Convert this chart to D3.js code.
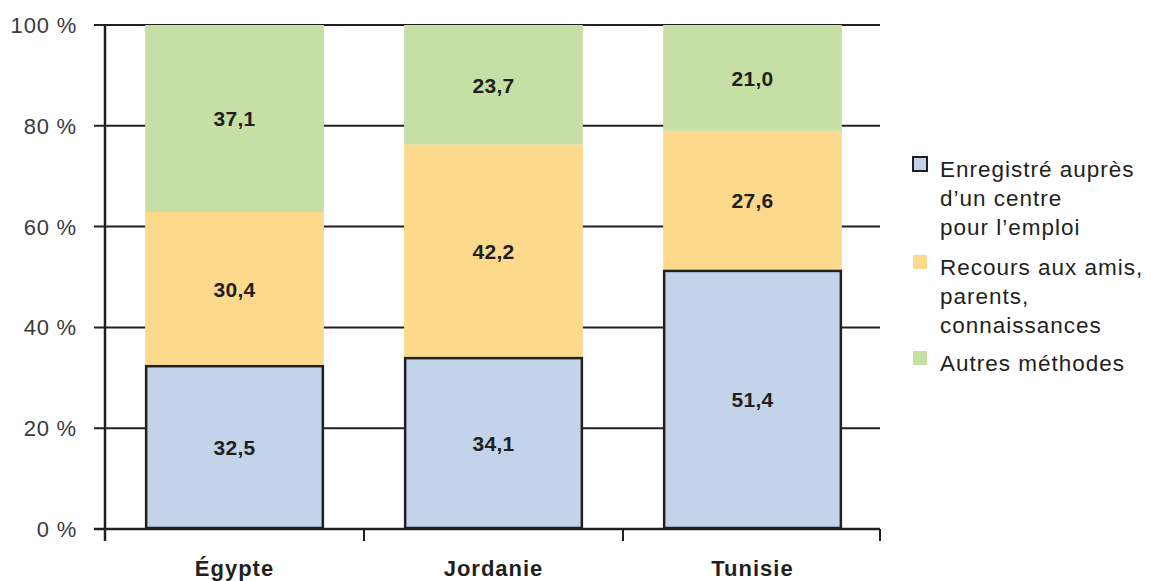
<!DOCTYPE html>
<html>
<head>
<meta charset="utf-8">
<script src="https://cdn.jsdelivr.net/npm/d3@7"></script>
<style>
  body { margin: 0; background: #fff; }
  text { font-family: "Liberation Sans", Arial, sans-serif; }
</style>
</head>
<body>
<script>
var categories = ["Égypte", "Jordanie", "Tunisie"];
var seriesNames = ["Enregistré auprès d’un centre pour l’emploi", "Recours aux amis, parents, connaissances", "Autres méthodes"];
var enregistre = [32.5, 34.1, 51.4];
var recours = [30.4, 42.2, 27.6];
var autres = [37.1, 23.7, 21.0];
var yTicks = [0, 20, 40, 60, 80, 100];

var legendLines = [
  ["Enregistré auprès", "d’un centre", "pour l’emploi"],
  ["Recours aux amis,", "parents,", "connaissances"],
  ["Autres méthodes"]
];

var width = 1151, height = 581;
var color = ["#C3D4EA", "#FDD98C", "#C5DFA5"];
var ink = "#231F20";

var svg = d3.select("body").append("svg")
    .attr("width", width)
    .attr("height", height);

var x = d3.scaleBand().domain(categories).range([105, 882]).paddingInner(0.31).paddingOuter(0.155);
var y = d3.scaleLinear().domain([0, 100]).range([529, 25]);

// table for stacking
var rows = categories.map(function(c, i) {
  return { cat: c, s0: enregistre[i], s1: recours[i], s2: autres[i] };
});
var stack = d3.stack().keys(["s0", "s1", "s2"])(rows);

// gridlines
svg.append("g").selectAll("line")
   .data(yTicks)
   .enter().append("line")
   .attr("x1", 94).attr("x2", 880)
   .attr("y1", function(d) { return y(d); })
   .attr("y2", function(d) { return y(d); })
   .attr("stroke", ink).attr("stroke-width", 2);

// tick labels
svg.append("g").selectAll("text")
   .data(yTicks)
   .enter().append("text")
   .attr("x", 77)
   .attr("y", function(d) { return y(d) + 8; })
   .attr("text-anchor", "end")
   .attr("font-size", "22px")
   .attr("letter-spacing", "0.8px")
   .attr("fill", "#3a3a3a")
   .text(function(d) { return d + " %"; });

// bars
var layers = svg.append("g").selectAll("g")
    .data(stack)
    .enter().append("g")
    .attr("fill", function(d, i) { return color[i]; });

layers.selectAll("rect")
    .data(function(d) { return d; })
    .enter().append("rect")
    .attr("x", function(d) { return x(d.data.cat); })
    .attr("width", x.bandwidth())
    .attr("y", function(d) { return y(d[1]); })
    .attr("height", function(d) { return y(d[0]) - y(d[1]); });

// outline on blue segment
svg.append("g").selectAll("rect")
   .data(stack[0])
   .enter().append("rect")
   .attr("x", function(d) { return x(d.data.cat) + 1; })
   .attr("width", x.bandwidth() - 2)
   .attr("y", function(d) { return y(d[1]) + 1; })
   .attr("height", function(d) { return y(d[0]) - y(d[1]) - 2; })
   .attr("fill", "none")
   .attr("stroke", ink)
   .attr("stroke-width", 2.5);

// value labels
stack.forEach(function(layer) {
  svg.append("g").selectAll("text")
     .data(layer)
     .enter().append("text")
     .attr("x", function(d) { return x(d.data.cat) + x.bandwidth() / 2; })
     .attr("y", function(d) { return (y(d[0]) + y(d[1])) / 2 + 8; })
     .attr("text-anchor", "middle")
     .attr("font-size", "21px")
     .attr("letter-spacing", "0.3px")
     .attr("font-weight", "bold")
     .attr("fill", ink)
     .text(function(d) { return d3.format(".1f")(d[1] - d[0]).replace(".", ","); });
});

// y axis line and baseline
svg.append("line")
   .attr("x1", 105).attr("x2", 105).attr("y1", 25).attr("y2", 541)
   .attr("stroke", ink).attr("stroke-width", 2.5);
svg.append("line")
   .attr("x1", 94).attr("x2", 880).attr("y1", y(0)).attr("y2", y(0))
   .attr("stroke", ink).attr("stroke-width", 2.5);

// category separator ticks
var bounds = categories.map(function(c) { return x(c) - x.step() * x.paddingInner() / 2; });
bounds[0] = 105;
bounds.push(880);
svg.append("g").selectAll("line")
   .data(bounds)
   .enter().append("line")
   .attr("x1", function(d) { return d; }).attr("x2", function(d) { return d; })
   .attr("y1", y(0)).attr("y2", 541)
   .attr("stroke", ink).attr("stroke-width", 2);

// category labels
svg.append("g").selectAll("text")
   .data(categories)
   .enter().append("text")
   .attr("x", function(d) { return x(d) + x.bandwidth() / 2; })
   .attr("y", 576)
   .attr("text-anchor", "middle")
   .attr("font-size", "22px")
   .attr("letter-spacing", "1px")
   .attr("font-weight", "bold")
   .attr("fill", ink)
   .text(function(d) { return d; });

// legend
var legendTop = [157, 255, 351];
var legend = svg.append("g").selectAll("g")
    .data(legendLines)
    .enter().append("g")
    .attr("transform", function(d, i) { return "translate(913," + legendTop[i] + ")"; });

legend.append("rect")
      .attr("width", 14).attr("height", 14)
      .attr("fill", function(d, i) { return color[i]; })
      .attr("stroke", function(d, i) { return i === 0 ? ink : "none"; })
      .attr("stroke-width", function(d, i) { return i === 0 ? 2 : 0; });

legend.each(function(lines) {
  d3.select(this).selectAll("text")
    .data(lines)
    .enter().append("text")
    .attr("x", 27)
    .attr("y", function(d, j) { return 20 + j * 29; })
    .attr("font-size", "22.5px")
    .attr("letter-spacing", "1px")
    .attr("fill", ink)
    .text(function(d) { return d; });
});
</script>
</body>
</html>
